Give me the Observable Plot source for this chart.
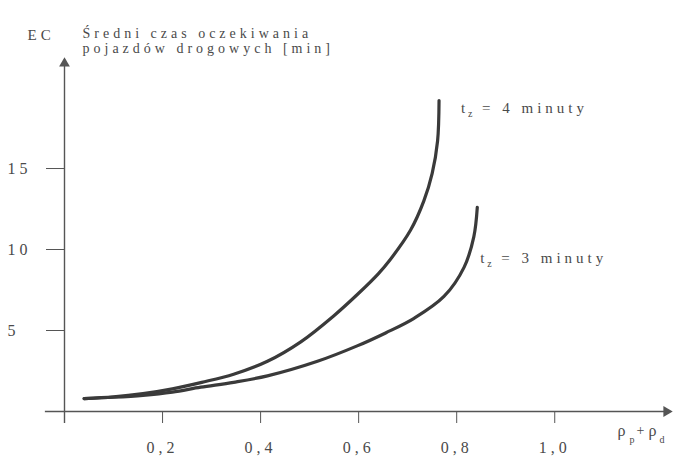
<!DOCTYPE html>
<html><head><meta charset="utf-8">
<script src="https://cdn.jsdelivr.net/npm/d3@7"></script>
<script src="https://cdn.jsdelivr.net/npm/@observablehq/plot@0.6"></script>
<style>
body{margin:0;background:#fff}
svg{display:block}
#chart text{letter-spacing:4px}
</style>
</head><body><div id="chart"></div>
<script>
// t_z = 4 minuty
const x4 = [0.04, 0.10, 0.16, 0.22, 0.28, 0.345, 0.414, 0.482, 0.549, 0.60, 0.64, 0.665, 0.706, 0.733, 0.750, 0.761, 0.764];
const y4 = [0.8, 0.9, 1.1, 1.4, 1.8, 2.3, 3.1, 4.3, 5.9, 7.3, 8.5, 9.4, 11.2, 13.0, 14.7, 16.7, 19.2];
// t_z = 3 minuty
const x3 = [0.04, 0.10, 0.16, 0.22, 0.278, 0.345, 0.414, 0.516, 0.597, 0.655, 0.713, 0.774, 0.815, 0.835, 0.842];
const y3 = [0.8, 0.88, 1.0, 1.2, 1.5, 1.8, 2.2, 3.1, 4.05, 4.85, 5.75, 7.1, 8.9, 10.8, 12.6];

const xTicks = [0.2, 0.4, 0.6, 0.8, 1.0];
const xTickLabels = ["0,2", "0,4", "0,6", "0,8", "1,0"];
const yTicks = [5, 10, 15];
const yTickLabels = ["5", "10", "15"];
const seriesLabels = ["= 4 minuty", "= 3 minuty"];
const yName = "EC";
const titleLine1 = "Średni czas oczekiwania";
const titleLine2 = "pojazdów drogowych [min]";

const xMax = 1.23, yMax = 21.73;
const ink = "#4a4a4a";
const serif = "Liberation Serif, DejaVu Serif, serif";

const d4 = x4.map((x, i) => ({x, y: y4[i]}));
const d3s = x3.map((x, i) => ({x, y: y3[i]}));
const end4 = d4[d4.length - 1], end3 = d3s[d3s.length - 1];

const txt = (s, o) => Plot.text([s], {text: d => d, fill: ink, fontFamily: serif, textAnchor: "start", ...o});

const chart = Plot.plot({
  width: 678, height: 457,
  marginLeft: 64, marginRight: 11, marginTop: 59, marginBottom: 46,
  x: {domain: [0, xMax], axis: null},
  y: {domain: [0, yMax], axis: null},
  style: {fontFamily: serif, fontSize: "15px", color: ink, background: "#fff"},
  marks: [
    // axes lines
    Plot.ruleX([0], {y1: -0.74, y2: yMax, stroke: "#555", strokeWidth: 1.4}),
    Plot.ruleY([0], {x1: -0.039, x2: xMax, stroke: "#555", strokeWidth: 1.4}),
    Plot.dot([0], {x: 0, y: yMax, symbol: "triangle", r: 4, fill: "#555", stroke: "none", dy: 4}),
    Plot.dot([0], {x: xMax, y: 0, symbol: "triangle", r: 4, fill: "#555", stroke: "none", rotate: 90, dx: -1}),
    // ticks
    Plot.axisX(xTicks, {label: null, tickSize: 12, tickPadding: 18, stroke: "#555", fill: ink, fontSize: 16,
      tickFormat: d => xTickLabels[xTicks.indexOf(d)]}),
    Plot.axisY(yTicks, {label: null, tickSize: 18, tickPadding: 39, textAnchor: "start", stroke: "#555", fill: ink, fontSize: 16,
      tickFormat: d => yTickLabels[yTicks.indexOf(d)]}),
    // curves
    Plot.line(d4, {x: "x", y: "y", curve: "catmull-rom", stroke: "#3a3a3a", strokeWidth: 3.2}),
    Plot.line(d3s, {x: "x", y: "y", curve: "catmull-rom", stroke: "#3a3a3a", strokeWidth: 3.2}),
    // series labels t_z = 4 / 3 minuty
    Plot.text([end4], {x: "x", y: "y", text: () => "t", dx: 22, dy: 8, fill: ink, fontSize: 15, textAnchor: "start"}),
    Plot.text([end4], {x: "x", y: "y", text: () => "z", dx: 29, dy: 13, fill: ink, fontSize: 10, textAnchor: "start"}),
    Plot.text([end4], {x: "x", y: "y", text: () => seriesLabels[0], dx: 43, dy: 8, fill: ink, fontSize: 15, textAnchor: "start"}),
    Plot.text([end3], {x: "x", y: "y", text: () => "t", dx: 3, dy: 51, fill: ink, fontSize: 15, textAnchor: "start"}),
    Plot.text([end3], {x: "x", y: "y", text: () => "z", dx: 10, dy: 56, fill: ink, fontSize: 10, textAnchor: "start"}),
    Plot.text([end3], {x: "x", y: "y", text: () => seriesLabels[1], dx: 24, dy: 51, fill: ink, fontSize: 15, textAnchor: "start"}),
    // y name and title (middle-anchored, baselines ~32 and ~47)
    txt(yName, {frameAnchor: "top-left", dx: -37, dy: -30, fontSize: 15}),
    txt(titleLine1, {frameAnchor: "top-left", dx: 18, dy: -31, fontSize: 14}),
    txt(titleLine2, {frameAnchor: "top-left", dx: 18, dy: -16, fontSize: 14}),
    // x name rho_p + rho_d
    txt("ρ", {frameAnchor: "bottom-right", dx: -50, dy: 24, fontSize: 16}),
    txt("p", {frameAnchor: "bottom-right", dx: -38, dy: 31, fontSize: 10}),
    txt("+", {frameAnchor: "bottom-right", dx: -31, dy: 23, fontSize: 14}),
    txt("ρ", {frameAnchor: "bottom-right", dx: -19, dy: 24, fontSize: 16}),
    txt("d", {frameAnchor: "bottom-right", dx: -8, dy: 31, fontSize: 10})
  ]
});
document.getElementById("chart").append(chart);
</script>
</body></html>
